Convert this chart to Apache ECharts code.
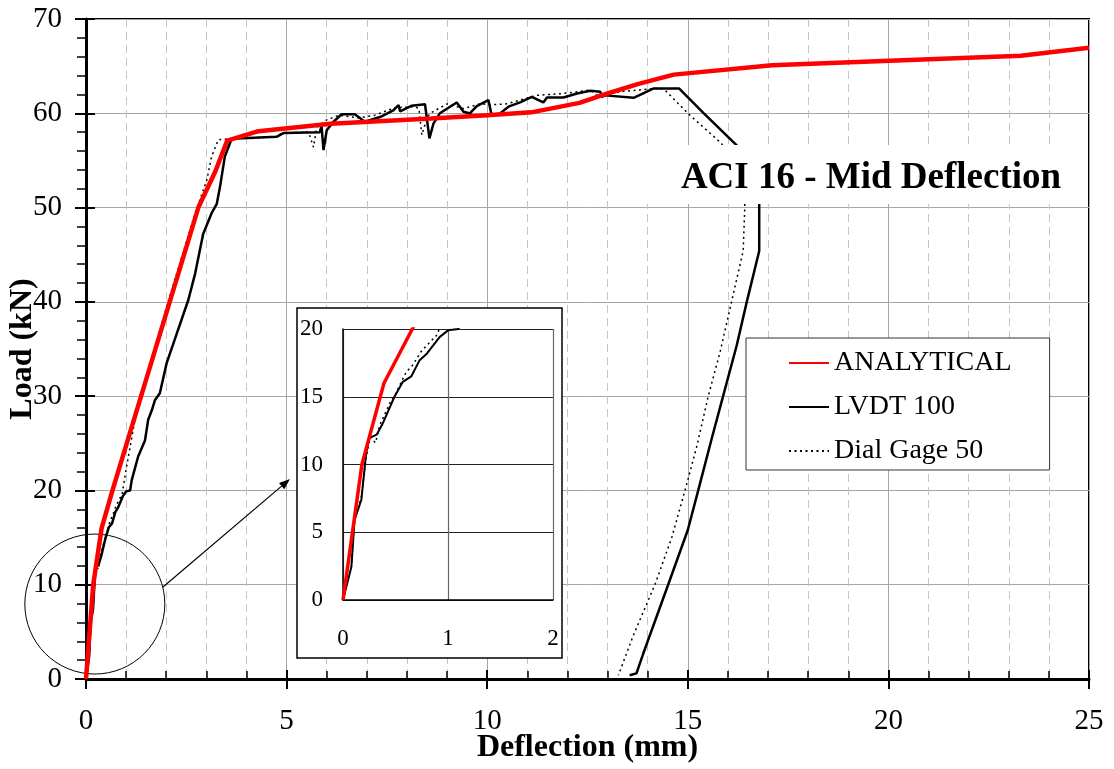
<!DOCTYPE html>
<html><head><meta charset="utf-8">
<script src="https://cdn.jsdelivr.net/npm/echarts@6/dist/echarts.min.js"></script>
<style>html,body{margin:0;padding:0;background:#fff}#c{width:1114px;height:769px}</style>
</head><body><div id="c"></div>
<script>
const FONT = '"Liberation Serif", "Times New Roman", serif';
const chartTitle = 'ACI 16 - Mid Deflection';
const xAxisName = 'Deflection (mm)';
const yAxisName = 'Load (kN)';
const seriesNames = ['ANALYTICAL', 'LVDT 100', 'Dial Gage 50'];

const analyticalX = [0, 0.18, 0.25, 0.39, 0.66, 2.8, 3.22, 3.52, 4.3, 6.1, 8.6, 10, 11.1, 12.3, 13, 13.75, 14.65, 17.1, 23.3, 25];
const analyticalY = [0, 10, 12, 16, 20, 50, 53.8, 57.1, 58.1, 58.9, 59.45, 59.8, 60.1, 61.1, 62.1, 63.1, 64.1, 65.1, 66.1, 66.95];

const lvdtX = [0, 0.08, 0.11, 0.175, 0.22, 0.25, 0.32, 0.38, 0.49, 0.57, 0.65, 0.73, 0.80, 0.92, 1.0, 1.1, 1.14, 1.30, 1.47, 1.55, 1.64, 1.72, 1.84, 2.01, 2.26, 2.55, 2.72, 2.92, 3.13, 3.26, 3.34, 3.46, 3.63, 4.75, 4.92, 5.83, 5.87, 5.92, 6.0, 6.17, 6.37, 6.70, 6.95, 7.33, 7.66, 7.79, 7.83, 8.12, 8.45, 8.56, 8.66, 8.82, 9.24, 9.41, 9.57, 9.74, 10.03, 10.11, 10.32, 10.53, 10.82, 11.11, 11.40, 11.49, 11.90, 12.24, 12.57, 12.82, 12.86, 12.94, 13.65, 14.15, 14.78, 15.40, 16.22, 16.78, 16.78, 16.47, 16.22, 15.88, 15.59, 15.26, 15.0, 14.51, 13.89, 13.72, 13.55];
const lvdtY = [0, 2.46, 5.9, 7.4, 10.8, 11.95, 12.2, 13.05, 15.0, 16.1, 16.5, 17.7, 18.2, 19.4, 19.9, 20.0, 21.1, 23.6, 25.3, 27.5, 28.5, 29.6, 30.3, 33.5, 36.6, 40.2, 43.0, 47.2, 49.4, 50.4, 52.2, 55.4, 57.3, 57.5, 57.9, 58.0, 58.7, 56.1, 58.2, 59.1, 59.9, 59.9, 59.1, 59.6, 60.3, 60.87, 60.2, 60.8, 60.96, 57.33, 58.9, 60.0, 61.15, 60.16, 59.98, 60.76, 61.4, 59.8, 59.98, 60.7, 61.15, 61.75, 61.15, 61.68, 61.68, 62.1, 62.39, 62.28, 61.75, 61.9, 61.64, 62.63, 62.63, 59.98, 56.6, 54.5, 45.4, 40, 35.4, 30, 25.4, 20, 15.8, 10, 2.7, 0.6, 0.4];

const dialX = [0, 0.08, 0.11, 0.175, 0.22, 0.26, 0.31, 0.35, 0.45, 0.5, 0.6, 0.66, 0.75, 0.85, 0.9, 1.01, 1.1, 1.22, 1.35, 2.01, 2.72, 3.01, 3.13, 3.3, 3.6, 4.7, 4.9, 5.55, 5.67, 5.75, 6.0, 6.3, 6.8, 7.2, 7.7, 8.2, 8.3, 8.37, 8.5, 8.58, 9.0, 9.41, 9.83, 10.1, 10.49, 10.82, 11.24, 11.9, 12.57, 12.73, 13.32, 14.15, 14.4, 15.0, 15.84, 16.42, 16.42, 16.38, 16.09, 15.8, 15.51, 15.22, 14.93, 14.6, 14.18, 13.64, 13.27];
const dialY = [0, 2.5, 5.9, 7.6, 10.5, 12.0, 11.6, 12.9, 14.6, 15.2, 16.8, 17.3, 18.4, 19.2, 19.6, 22.5, 24.6, 27.5, 29.6, 39.5, 49.4, 52.9, 55.4, 57.2, 57.3, 57.5, 57.9, 58.0, 56.4, 58.5, 59.3, 59.8, 59.5, 59.8, 60.6, 60.7, 60.5, 57.7, 59.5, 60.0, 61.0, 60.5, 61.0, 60.9, 61.0, 61.4, 61.9, 62.1, 62.46, 61.9, 62.28, 62.63, 62.6, 60.0, 56.8, 52, 50, 45.4, 40, 34.6, 30, 24.6, 20, 15, 10, 4.6, 0.4];

function pairs(xs, ys) { return xs.map((x, i) => [x, ys[i]]); }

const chart = echarts.init(document.getElementById('c'), null, { renderer: 'canvas' });
const mainGrid = { left: 86, top: 19, right: 25, bottom: 90, containLabel: false, outerBoundsMode: 'none',
  show: true, borderColor: '#000', borderWidth: 2, backgroundColor: 'transparent' };
const overlayGrid = { left: 86, top: 19, right: 25, bottom: 90, containLabel: false, outerBoundsMode: 'none' };
const insetGrid = { left: 343, top: 329, width: 210, height: 271, containLabel: false, outerBoundsMode: 'none' };

const lab = (size, margin) => ({ fontFamily: FONT, fontSize: size, color: '#000', margin: margin });

function mkSeries(ax, widths, z) {
  return [
    { name: seriesNames[1], type: 'line', xAxisIndex: ax, yAxisIndex: ax, data: pairs(lvdtX, lvdtY),
      symbol: 'none', showSymbol: false, clip: true, z: z,
      lineStyle: { color: '#000', width: widths[1] }, itemStyle: { color: '#000' } },
    { name: seriesNames[2], type: 'line', xAxisIndex: ax, yAxisIndex: ax, data: pairs(dialX, dialY),
      symbol: 'none', showSymbol: false, clip: true, z: z,
      lineStyle: { color: '#000', width: widths[2], type: [2, 3.5] }, itemStyle: { color: '#000' } },
    { name: seriesNames[0], type: 'line', xAxisIndex: ax, yAxisIndex: ax, data: pairs(analyticalX, analyticalY),
      symbol: 'none', showSymbol: false, clip: true, z: z + 1,
      lineStyle: { color: '#ff0000', width: widths[0] }, itemStyle: { color: '#ff0000' } }
  ];
}

chart.setOption({
  animation: false,
  backgroundColor: '#fff',
  grid: [mainGrid, overlayGrid, insetGrid],
  xAxis: [
    { gridIndex: 0, type: 'value', min: 0, max: 25, interval: 5,
      axisLine: { show: true, onZero: false, lineStyle: { color: '#000', width: 3 } },
      axisTick: { show: true, inside: false, length: 10, lineStyle: { color: '#000', width: 2 } },
      minorTick: { show: false, splitNumber: 5 },
      splitLine: { show: true, lineStyle: { color: '#a6a6a6', width: 1 } },
      minorSplitLine: { show: true, lineStyle: { color: '#c4c4c4', width: 1, type: [8, 5] } },
      axisLabel: lab(29, 28),
      name: xAxisName, nameLocation: 'middle', nameGap: 53, nameMoveOverlap: false,
      nameTextStyle: { fontFamily: FONT, fontWeight: 'bold', fontSize: 32, color: '#000' } },
    { gridIndex: 1, type: 'value', min: 0, max: 25, interval: 5,
      axisLine: { show: false, onZero: false },
      axisTick: { show: true, inside: true, length: 9, lineStyle: { color: '#000', width: 2 } },
      minorTick: { show: true, splitNumber: 5, length: 8, lineStyle: { color: '#000', width: 1.5 } },
      splitLine: { show: false }, axisLabel: { show: false } },
    { gridIndex: 2, type: 'value', min: 0, max: 2, interval: 1, z: 6,
      axisLine: { show: true, onZero: false, lineStyle: { color: '#000', width: 1.5 } },
      axisTick: { show: false },
      splitLine: { show: true, lineStyle: { color: '#666', width: 1.2 } },
      axisLabel: lab(23, 27) }
  ],
  yAxis: [
    { gridIndex: 0, type: 'value', min: 0, max: 70, interval: 10,
      axisLine: { show: true, onZero: false, lineStyle: { color: '#000', width: 3 } },
      axisTick: { show: true, inside: false, length: 11, lineStyle: { color: '#000', width: 2 } },
      minorTick: { show: true, splitNumber: 5, length: 9, lineStyle: { color: '#000', width: 1.5 } },
      splitLine: { show: true, lineStyle: { color: '#a6a6a6', width: 1 } },
      axisLabel: lab(29, 24),
      name: yAxisName, nameLocation: 'middle', nameGap: 47, nameRotate: 90, nameMoveOverlap: false,
      nameTextStyle: { fontFamily: FONT, fontWeight: 'bold', fontSize: 32, color: '#000' } },
    { gridIndex: 1, type: 'value', min: 0, max: 70, interval: 10,
      axisLine: { show: false, onZero: false },
      axisTick: { show: true, inside: true, length: 9, lineStyle: { color: '#000', width: 2 } },
      splitLine: { show: false }, axisLabel: { show: false } },
    { gridIndex: 2, type: 'value', min: 0, max: 20, interval: 5, z: 6,
      axisLine: { show: true, onZero: false, lineStyle: { color: '#000', width: 1.5 } },
      axisTick: { show: false },
      splitLine: { show: true, lineStyle: { color: '#222', width: 1 } },
      axisLabel: lab(23, 20) }
  ],
  legend: {
    show: true, orient: 'vertical', left: 746, top: 338, z: 10,
    padding: [11, 38, 5, 42], itemGap: 16, itemWidth: 40, itemHeight: 28,
    backgroundColor: '#fff', borderColor: '#333', borderWidth: 1, borderRadius: 0,
    itemStyle: { opacity: 0 },
    textStyle: { fontFamily: FONT, fontSize: 28, color: '#000' },
    data: seriesNames, selectedMode: false
  },
  series: [].concat(mkSeries(0, [4.5, 2.5, 1.5], 2), mkSeries(2, [3.5, 2, 1.5], 7))
});

// annotations (title box, zoom circle, arrow, inset frame)
const c = chart.convertToPixel({ gridIndex: 0 }, [0.22, 7.95]);
const tip = [290, 479], tail = [163, 587];
const dx = tip[0] - tail[0], dy = tip[1] - tail[1], L = Math.hypot(dx, dy);
const ux = dx / L, uy = dy / L, nx = -uy, ny = ux;
const bx = tip[0] - 11 * ux, by = tip[1] - 11 * uy;
chart.setOption({
  graphic: [
    { type: 'rect', z: 5, silent: true, shape: { x: 297, y: 308, width: 265, height: 350 },
      style: { fill: '#fff', stroke: '#000', lineWidth: 1.5 } },
    { type: 'circle', z: 3, silent: true, shape: { cx: c[0], cy: c[1], r: 70 },
      style: { fill: 'none', stroke: '#000', lineWidth: 1 } },
    { type: 'line', z: 3, silent: true, shape: { x1: tail[0], y1: tail[1], x2: bx, y2: by },
      style: { stroke: '#000', lineWidth: 1.2 } },
    { type: 'polygon', z: 3, silent: true,
      shape: { points: [tip, [bx + 4 * nx, by + 4 * ny], [bx - 4 * nx, by - 4 * ny]] },
      style: { fill: '#000' } },
    { type: 'rect', z: 5, silent: true, shape: { x: 640, y: 145, width: 447, height: 59 },
      style: { fill: '#fff' } },
    { type: 'text', z: 6, silent: true, x: 871, y: 178,
      style: { text: chartTitle, font: 'bold 37px ' + FONT, fill: '#000',
        align: 'center', verticalAlign: 'middle', textAlign: 'center', textVerticalAlign: 'middle' } }
  ]
});
</script></body></html>
